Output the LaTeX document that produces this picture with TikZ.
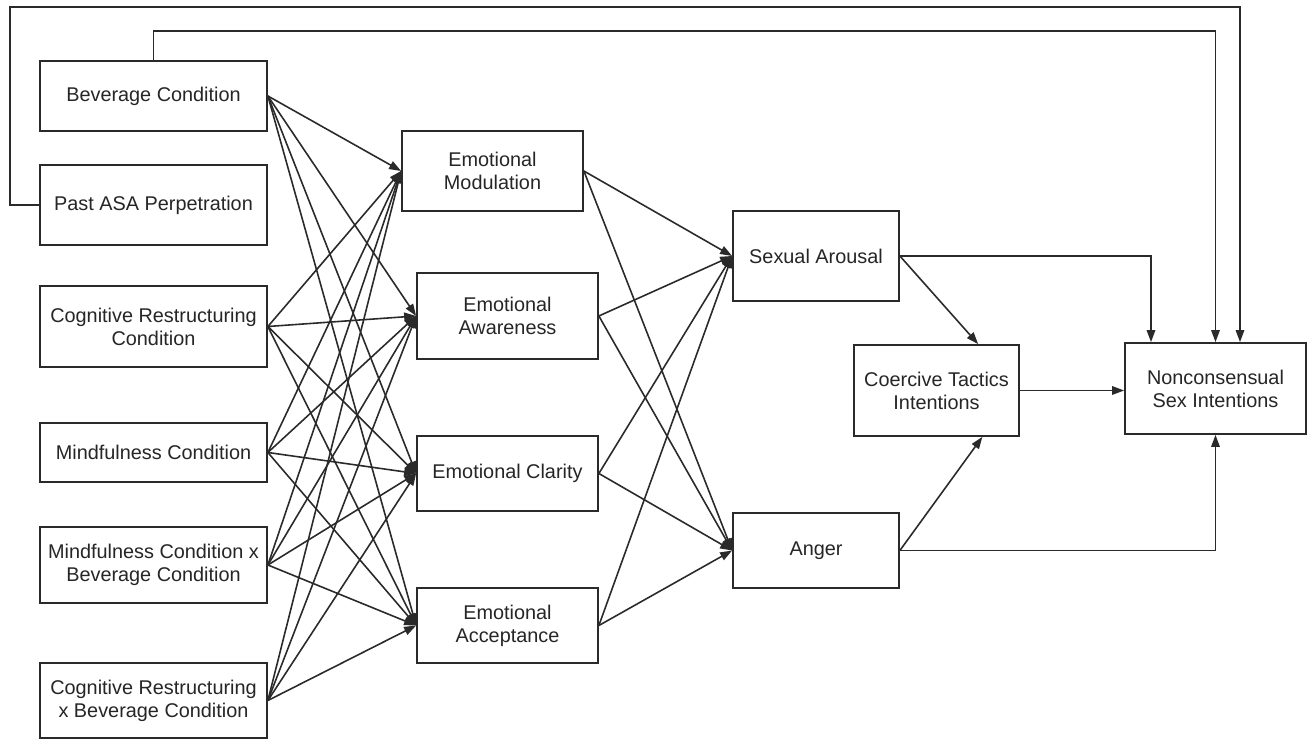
\documentclass[tikz,border=0pt]{standalone}
\usepackage{fontspec}
\setmainfont{Liberation Sans}
\usepackage{xcolor}
\usepackage{tikz}
\usetikzlibrary{arrows.meta,calc}
\definecolor{cLine}{HTML}{2A2A2A}
\definecolor{cText}{HTML}{262626}

\begin{document}
\begin{tikzpicture}[
  font=\fontsize{11.3pt}{13.1pt}\selectfont,
  >={Triangle[length=2.4mm,width=1.7mm]},
  box/.style   ={draw=cLine,line width=1pt,align=center,text=cText,inner sep=2pt},
  pred/.style  ={box,minimum width=4.54cm},
  emo/.style   ={box,minimum width=3.62cm},
  outc/.style  ={box,minimum width=3.32cm},
  flow/.style  ={->,line width=0.9pt,cLine},
]
\path[use as bounding box,fill=white] (0,0) rectangle (26.32,-14.82);

% =====================================================================
% PREDICTORS (left column)
% =====================================================================
\node[pred,minimum height=1.40cm] (bev)   at (3.07,-1.92)  {Beverage Condition};
\node[pred,minimum height=1.60cm] (past)  at (3.07,-4.10)  {Past ASA Perpetration};
\node[pred,minimum height=1.62cm] (cogr)  at (3.07,-6.53)  {Cognitive Restructuring\\Condition};
\node[pred,minimum height=1.18cm] (mind)  at (3.07,-9.05)  {Mindfulness Condition};
\node[pred,minimum height=1.52cm] (mxb)   at (3.07,-11.30) {Mindfulness Condition x\\Beverage Condition};
\node[pred,minimum height=1.50cm] (crxb)  at (3.07,-14.01) {Cognitive Restructuring\\x Beverage Condition};

% =====================================================================
% EMOTION REGULATION (middle column)
% =====================================================================
\node[emo,minimum height=1.60cm] (mod)     at (9.85,-3.42)   {Emotional\\Modulation};
\node[emo,minimum height=1.72cm] (aware)   at (10.15,-6.32)  {Emotional\\Awareness};
\node[emo,minimum height=1.50cm] (clarity) at (10.15,-9.47)  {Emotional Clarity};
\node[emo,minimum height=1.50cm] (accept)  at (10.15,-12.51) {Emotional\\Acceptance};

\draw[flow] (bev.east)  -- (mod.west);
\draw[flow] (bev.east)  -- (aware.west);
\draw[flow] (bev.east)  -- (clarity.west);
\draw[flow] (bev.east)  -- (accept.west);

\draw[flow] (cogr.east) -- (mod.west);
\draw[flow] (cogr.east) -- (aware.west);
\draw[flow] (cogr.east) -- (clarity.west);
\draw[flow] (cogr.east) -- (accept.west);

\draw[flow] (mind.east) -- (mod.west);
\draw[flow] (mind.east) -- (aware.west);
\draw[flow] (mind.east) -- (clarity.west);
\draw[flow] (mind.east) -- (accept.west);

\draw[flow] (mxb.east)  -- (mod.west);
\draw[flow] (mxb.east)  -- (aware.west);
\draw[flow] (mxb.east)  -- (clarity.west);
\draw[flow] (mxb.east)  -- (accept.west);

\draw[flow] (crxb.east) -- (mod.west);
\draw[flow] (crxb.east) -- (aware.west);
\draw[flow] (crxb.east) -- (clarity.west);
\draw[flow] (crxb.east) -- (accept.west);

% =====================================================================
% AROUSAL / ANGER
% =====================================================================
\node[outc,minimum height=1.80cm] (arousal) at (16.32,-5.12)  {Sexual Arousal};
\node[outc,minimum height=1.50cm] (anger)   at (16.32,-11.01) {Anger};

\draw[flow] (mod.east)     -- (arousal.west);
\draw[flow] (mod.east)     -- (anger.west);
\draw[flow] (aware.east)   -- (arousal.west);
\draw[flow] (aware.east)   -- (anger.west);
\draw[flow] (clarity.east) -- (arousal.west);
\draw[flow] (clarity.east) -- (anger.west);
\draw[flow] (accept.east)  -- (arousal.west);
\draw[flow] (accept.east)  -- (anger.west);

% =====================================================================
% INTENTIONS
% =====================================================================
\node[outc,minimum width=3.30cm,minimum height=1.82cm] (coerc) at (18.73,-7.81)
  {Coercive Tactics\\Intentions};
\node[emo,minimum height=1.82cm] (nonc) at (24.31,-7.77)
  {Nonconsensual\\Sex Intentions};

\draw[flow] (arousal.east) -- ($(coerc.north)!0.5!(coerc.north east)$);
\draw[flow] (anger.east)   -- ($(coerc.south)!0.55!(coerc.south east)$);
\draw[flow] (coerc.east)   -- (coerc.east -| nonc.west);
\draw[flow] (arousal.east) -| ($(nonc.north)+(-1.29,0)$);
\draw[flow] (anger.east)   -| (nonc.south);

% direct paths from the top of the figure
\coordinate (bevTopY)  at (0,-0.62);
\coordinate (pastTopY) at (0,-0.14);
\coordinate (pastLeftX) at (0.20,0);
\draw[flow] (bev.north) -- (bev.north |- bevTopY) -- (nonc.north |- bevTopY) -- (nonc.north);
\draw[flow] (past.west) -- (pastLeftX |- past.west) -- (pastLeftX |- pastTopY)
  -- ($(nonc.north |- pastTopY)+(0.49,0)$) -- ($(nonc.north)+(0.49,0)$);

\end{tikzpicture}
\end{document}
